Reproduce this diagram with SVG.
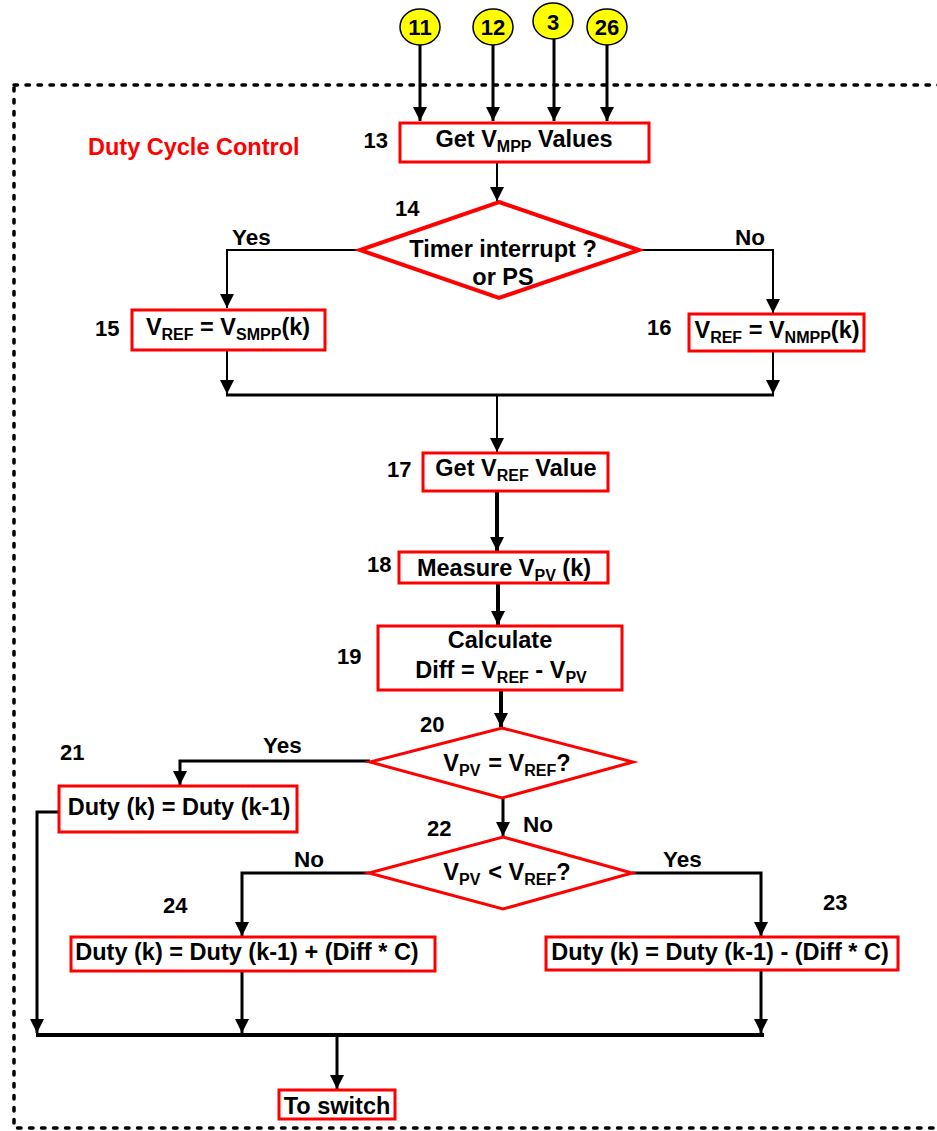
<svg xmlns="http://www.w3.org/2000/svg" width="937" height="1131" viewBox="0 0 937 1131">
<style>
text{font-family:"Liberation Sans",Arial,sans-serif;font-weight:bold;fill:#000}
.t{font-size:23.5px}
.lbl{font-size:22px}
.yn{font-size:22.5px}
.cn{font-size:22px}
.sub{font-size:16px}
.title{font-size:23.5px;fill:#ff0000}
.box{fill:#fff;stroke:#ff0000;stroke-width:3}
.dia{fill:#fff;stroke:#ff0000;stroke-width:3}
.c2{fill:none;stroke:#000;stroke-width:2}
.c3{fill:none;stroke:#000;stroke-width:3}
.c4{fill:none;stroke:#000;stroke-width:4}
.circ{fill:#ffff00;stroke:#000;stroke-width:1.5}
</style>
<defs>
<marker id="ah" markerUnits="userSpaceOnUse" markerWidth="14" markerHeight="14" refX="14" refY="7" orient="auto">
<path d="M0,0 L14,7 L0,14 z" fill="#000"/>
</marker>
</defs>
<rect width="937" height="1131" fill="#fff"/>
<rect id="border" x="14" y="85" width="1000" height="1043" fill="none" stroke="#000" stroke-width="3.5" stroke-dasharray="3.5 8.5" stroke-linecap="round"/>
<text class="title" x="88" y="155">Duty Cycle Control</text>

<g id="connectors">
<line class="c3" x1="420" y1="44" x2="420" y2="121" marker-end="url(#ah)"/>
<line class="c3" x1="493" y1="44" x2="493" y2="121" marker-end="url(#ah)"/>
<line class="c3" x1="554" y1="38" x2="554" y2="121" marker-end="url(#ah)"/>
<line class="c3" x1="607" y1="44" x2="607" y2="121" marker-end="url(#ah)"/>
<line class="c2" x1="497" y1="162" x2="497" y2="201" marker-end="url(#ah)"/>
<polyline class="c2" points="360,250 227,250 227,308" marker-end="url(#ah)"/>
<polyline class="c2" points="639,250 773,250 773,313" marker-end="url(#ah)"/>
<line class="c2" x1="227" y1="350" x2="227" y2="394" marker-end="url(#ah)"/>
<line class="c2" x1="773" y1="351" x2="773" y2="394" marker-end="url(#ah)"/>
<line class="c3" x1="226" y1="395" x2="774" y2="395"/>
<line class="c2" x1="497" y1="395" x2="497" y2="452" marker-end="url(#ah)"/>
<line class="c4" x1="497" y1="491" x2="497" y2="551" marker-end="url(#ah)"/>
<line class="c4" x1="498" y1="583" x2="498" y2="625" marker-end="url(#ah)"/>
<line class="c4" x1="501" y1="690" x2="501" y2="727" marker-end="url(#ah)"/>
<polyline class="c3" points="370,761 180,761 180,785" marker-end="url(#ah)"/>
<polyline class="c3" points="59,812 37,812 37,1033" marker-end="url(#ah)"/>
<line class="c3" x1="503" y1="798" x2="503" y2="836" marker-end="url(#ah)"/>
<polyline class="c3" points="369,873 242,873 242,936" marker-end="url(#ah)"/>
<polyline class="c3" points="632,873 761,873 761,936" marker-end="url(#ah)"/>
<line class="c3" x1="242" y1="971" x2="242" y2="1033" marker-end="url(#ah)"/>
<line class="c3" x1="761" y1="970" x2="761" y2="1033" marker-end="url(#ah)"/>
<line class="c4" x1="36" y1="1035" x2="764" y2="1035"/>
<line class="c3" x1="337" y1="1035" x2="337" y2="1089" marker-end="url(#ah)"/>
</g>

<g id="c11"><ellipse class="circ" cx="420" cy="27" rx="20" ry="18"/><text class="cn" x="420" y="35" text-anchor="middle">11</text></g>
<g id="c12"><ellipse class="circ" cx="493" cy="27" rx="20" ry="18"/><text class="cn" x="493" y="35" text-anchor="middle">12</text></g>
<g id="c3"><ellipse class="circ" cx="553" cy="21" rx="20" ry="18"/><text class="cn" x="553" y="30" text-anchor="middle">3</text></g>
<g id="c26"><ellipse class="circ" cx="607" cy="27" rx="20" ry="18"/><text class="cn" x="607" y="35" text-anchor="middle">26</text></g>

<g id="n13">
<rect class="box" x="400" y="123" width="249" height="39"/>
<text class="lbl" x="388" y="148" text-anchor="end">13</text>
<text class="t" x="524" y="147" text-anchor="middle">Get V<tspan class="sub" dy="5">MPP</tspan><tspan dy="-5"> Values</tspan></text>
</g>

<g id="n14">
<polygon class="dia" style="stroke-width:4" points="499,202 639,250 499,298 360,250"/>
<text class="lbl" x="395" y="216">14</text>
<text class="t" x="503" y="257" text-anchor="middle">Timer interrupt ?</text>
<text class="t" x="503" y="285" text-anchor="middle">or PS</text>
<text class="yn" x="232" y="245">Yes</text>
<text class="yn" x="735" y="245">No</text>
</g>

<g id="n15">
<rect class="box" x="132" y="310" width="193" height="40"/>
<text class="lbl" x="95" y="336">15</text>
<text class="t" x="228" y="335" text-anchor="middle">V<tspan class="sub" dy="5">REF</tspan><tspan dy="-5"> = V</tspan><tspan class="sub" dy="5">SMPP</tspan><tspan dy="-5">(k)</tspan></text>
</g>

<g id="n16">
<rect class="box" x="689" y="314" width="175" height="37"/>
<text class="lbl" x="647" y="335">16</text>
<text class="t" x="777" y="338" text-anchor="middle">V<tspan class="sub" dy="5">REF</tspan><tspan dy="-5"> = V</tspan><tspan class="sub" dy="5">NMPP</tspan><tspan dy="-5">(k)</tspan></text>
</g>

<g id="n17">
<rect class="box" x="423" y="453" width="185" height="38"/>
<text class="lbl" x="387" y="477">17</text>
<text class="t" x="516" y="476" text-anchor="middle">Get V<tspan class="sub" dy="5">REF</tspan><tspan dy="-5"> Value</tspan></text>
</g>

<g id="n18">
<rect class="box" x="399" y="552" width="209" height="31"/>
<text class="lbl" x="367" y="572">18</text>
<text class="t" x="504" y="576" text-anchor="middle">Measure V<tspan class="sub" dy="5">PV</tspan><tspan dy="-5"> (k)</tspan></text>
</g>

<g id="n19">
<rect class="box" x="378" y="626" width="244" height="64"/>
<text class="lbl" x="337" y="664">19</text>
<text class="t" x="500" y="648" text-anchor="middle">Calculate</text>
<text class="t" x="501" y="678" text-anchor="middle">Diff = V<tspan class="sub" dy="5">REF</tspan><tspan dy="-5"> - V</tspan><tspan class="sub" dy="5">PV</tspan></text>
</g>

<g id="n20">
<polygon class="dia" points="502,728 633,762 502,798 370,762"/>
<text class="lbl" x="420" y="732">20</text>
<text class="t" x="507" y="771" text-anchor="middle">V<tspan class="sub" dy="5">PV</tspan><tspan dy="-5" dx="8">= V</tspan><tspan class="sub" dy="5">REF</tspan><tspan dy="-5">?</tspan></text>
<text class="yn" x="263" y="753">Yes</text>
<text class="yn" x="523" y="832">No</text>
</g>

<g id="n21">
<rect class="box" x="59" y="786" width="238" height="46"/>
<text class="lbl" x="60" y="760">21</text>
<text class="t" x="179" y="815" text-anchor="middle">Duty (k) = Duty (k-1)</text>
</g>

<g id="n22">
<polygon class="dia" points="503,837 632,873 503,909 369,873"/>
<text class="lbl" x="427" y="836">22</text>
<text class="t" x="507" y="880" text-anchor="middle">V<tspan class="sub" dy="5">PV</tspan><tspan dy="-5" dx="8">&lt; V</tspan><tspan class="sub" dy="5">REF</tspan><tspan dy="-5">?</tspan></text>
<text class="yn" x="294" y="867">No</text>
<text class="yn" x="663" y="867">Yes</text>
</g>

<g id="n24">
<rect class="box" x="71" y="937" width="364" height="34"/>
<text class="lbl" x="163" y="913">24</text>
<text class="t" x="247" y="960" text-anchor="middle">Duty (k) = Duty (k-1) + (Diff * C)</text>
</g>

<g id="n23">
<rect class="box" x="546" y="937" width="352" height="33"/>
<text class="lbl" x="823" y="910">23</text>
<text class="t" x="720" y="960" text-anchor="middle">Duty (k) = Duty (k-1) - (Diff * C)</text>
</g>

<g id="switch">
<rect class="box" x="279" y="1090" width="116" height="29"/>
<text class="t" x="337" y="1114" text-anchor="middle">To switch</text>
</g>
</svg>
